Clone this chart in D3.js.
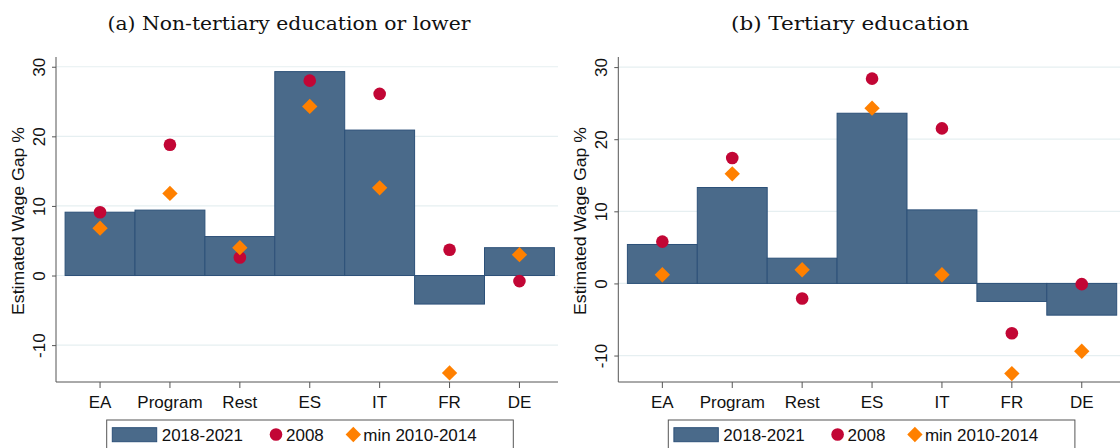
<!DOCTYPE html>
<html>
<head>
<meta charset="utf-8">
<script src="https://cdn.jsdelivr.net/npm/d3@7"></script>
<style>
  html, body { margin: 0; padding: 0; background: #fff; }
  svg { display: block; }
  .ax text, text.ax { font-family: "Liberation Sans", Arial, sans-serif; font-size: 17px; fill: #111; }
  .ttl { font-family: "DejaVu Serif", "Liberation Serif", serif; font-size: 18px; fill: #111; }
</style>
</head>
<body>
<svg id="chart" width="1120" height="448"></svg>
<script>
// Groups shown along the x axis
const categories = ["EA", "Program", "Rest", "ES", "IT", "FR", "DE"];
const yTicks = [-10, 0, 10, 20, 30];

// (a) Non-tertiary education or lower
const lowBars2018_2021 = [9.1, 9.4, 5.6, 29.3, 20.9, -4.1, 4.0];
const low2008 = [9.1, 18.8, 2.6, 28.0, 26.1, 3.7, -0.8];
const lowMin2010_2014 = [6.8, 11.8, 4.0, 24.3, 12.6, -14.0, 3.0];

// (b) Tertiary education
const highBars2018_2021 = [5.4, 13.3, 3.5, 23.6, 10.2, -2.5, -4.4];
const high2008 = [5.8, 17.4, -2.1, 28.4, 21.5, -6.9, -0.1];
const highMin2010_2014 = [1.2, 15.2, 1.9, 24.3, 1.2, -12.5, -9.4];

const legendLabels = ["2018-2021", "2008", "min 2010-2014"];

const COL_BAR = "#4a6a8a", COL_BAR_EDGE = "#2c5078";
const COL_DOT = "#c20635", COL_DIA = "#ff8000";

const svg = d3.select("#chart");

const panels = [
  { title: "(a) Non-tertiary education or lower", titleX: 289, titleLen: 363,
    axisX: 56, xStart: 65.1, xEnd: 554.4, plotRight: 558,
    yDomain: [-15.3, 31.4],
    bars: lowBars2018_2021, dots: low2008, dias: lowMin2010_2014,
    legendX: 106.7 },
  { title: "(b) Tertiary education", titleX: 850, titleLen: 238,
    axisX: 618.3, xStart: 627.4, xEnd: 1116.7, plotRight: 1120,
    yDomain: [-13.67, 31.4],
    bars: highBars2018_2021, dots: high2008, dias: highMin2010_2014,
    legendX: 668.3 }
];

const yTop = 57, yBottom = 382;
const dia = d3.symbol().type(d3.symbolDiamond2).size(150);

panels.forEach(p => {
  const g = svg.append("g");
  const x = d3.scaleBand().domain(categories).range([p.xStart, p.xEnd]).padding(0);
  const y = d3.scaleLinear().domain(p.yDomain).range([yBottom, yTop]);

  // panel title
  g.append("text").attr("class", "ttl")
    .attr("x", p.titleX).attr("y", 30)
    .attr("text-anchor", "middle")
    .attr("textLength", p.titleLen).attr("lengthAdjust", "spacingAndGlyphs")
    .text(p.title);

  // horizontal grid
  g.append("g").selectAll("line").data(yTicks).join("line")
    .attr("x1", p.axisX).attr("x2", p.plotRight)
    .attr("y1", d => y(d)).attr("y2", d => y(d))
    .attr("stroke", "#e6eff1").attr("stroke-width", 1.2);

  // bars from zero
  g.append("g").selectAll("rect").data(categories).join("rect")
    .attr("x", d => x(d))
    .attr("width", x.bandwidth())
    .attr("y", (d, i) => Math.min(y(0), y(p.bars[i])))
    .attr("height", (d, i) => Math.abs(y(p.bars[i]) - y(0)))
    .attr("fill", COL_BAR).attr("stroke", COL_BAR_EDGE).attr("stroke-width", 1);

  // 2008 dots
  g.append("g").selectAll("circle").data(categories).join("circle")
    .attr("cx", d => x(d) + x.bandwidth() / 2)
    .attr("cy", (d, i) => y(p.dots[i]))
    .attr("r", 6.3).attr("fill", COL_DOT);

  // min 2010-2014 diamonds
  g.append("g").selectAll("path").data(categories).join("path")
    .attr("d", dia)
    .attr("transform", (d, i) => `translate(${x(d) + x.bandwidth() / 2},${y(p.dias[i])})`)
    .attr("fill", COL_DIA);

  // y axis
  const ya = g.append("g").attr("class", "ax")
    .attr("transform", `translate(${p.axisX},0)`)
    .call(d3.axisLeft(y).tickValues(yTicks).tickSize(4).tickFormat(d => String(d)));
  ya.select(".domain").attr("d", `M0,${yTop}V${yBottom}`).attr("stroke", "#555");
  ya.selectAll(".tick line").attr("stroke", "#555");
  ya.selectAll(".tick text")
    .attr("x", 0).attr("y", 0).attr("dy", null)
    .attr("text-anchor", "middle")
    .attr("transform", `translate(-11.5,0) rotate(-90)`);

  // x axis
  const xa = g.append("g").attr("class", "ax")
    .attr("transform", `translate(0,${yBottom})`)
    .call(d3.axisBottom(x).tickSize(6).tickSizeOuter(0));
  xa.select(".domain").attr("d", `M${p.axisX},0H${p.plotRight}`).attr("stroke", "#555");
  xa.selectAll(".tick line").attr("stroke", "#555");
  xa.selectAll(".tick text").attr("y", 26).attr("dy", null);

  // y title
  g.append("text").attr("class", "ax")
    .attr("transform", `translate(${p.axisX - 32},${221}) rotate(-90)`)
    .attr("text-anchor", "middle")
    .attr("textLength", 188).attr("lengthAdjust", "spacingAndGlyphs")
    .text("Estimated Wage Gap %");

  // legend
  const lg = g.append("g").attr("transform", `translate(${p.legendX},420)`);
  lg.append("rect").attr("x", 0).attr("y", 0).attr("width", 406.6).attr("height", 40)
    .attr("fill", "#fff").attr("stroke", "#555").attr("stroke-width", 1);
  lg.append("rect").attr("x", 5.6).attr("y", 7.7).attr("width", 44.4).attr("height", 14)
    .attr("fill", COL_BAR).attr("stroke", COL_BAR_EDGE).attr("stroke-width", 1);
  lg.append("circle").attr("cx", 169.3).attr("cy", 14.5).attr("r", 6.3).attr("fill", COL_DOT);
  lg.append("path").attr("d", dia)
    .attr("transform", "translate(246.6,14.5)").attr("fill", COL_DIA);
  const lt = lg.append("g").attr("class", "ax");
  lt.append("text").attr("x", 55).attr("y", 20.5).text(legendLabels[0]);
  lt.append("text").attr("x", 179.3).attr("y", 20.5).text(legendLabels[1]);
  lt.append("text").attr("x", 256.6).attr("y", 20.5).text(legendLabels[2]);
});
</script>
</body>
</html>
